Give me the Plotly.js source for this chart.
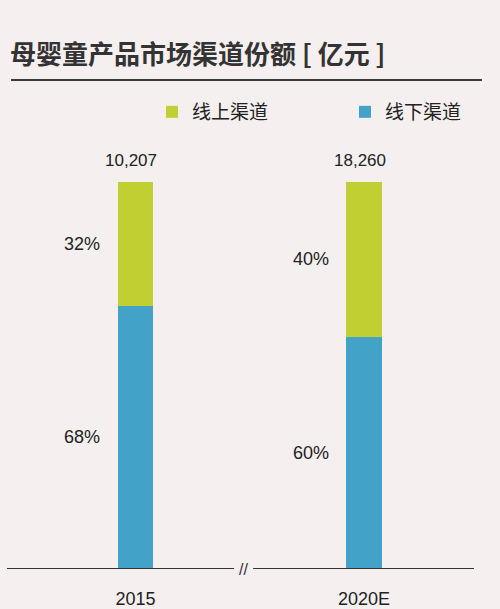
<!DOCTYPE html>
<html>
<head>
<meta charset="utf-8">
<script src="https://cdn.plot.ly/plotly-3.0.1.min.js"></script>
<style>html,body{margin:0;padding:0;background:#f5eff0;}</style>
</head>
<body>
<div id="chart" style="width:500px;height:609px;"></div>
<script>
var years = ['2015', '2020E'];
var totals = [10207, 18260];
var onlineShare = [32, 40];
var offlineShare = [68, 60];
var seriesNames = ['线上渠道', '线下渠道'];
var titleText = '母婴童产品市场渠道份额 [ 亿元 ]';

var numFont = 'Liberation Sans, Arial, sans-serif';
var cjkFont = 'Noto Sans CJK SC, sans-serif';

var traces = [
  {
    type: 'bar', name: seriesNames[1], x: years, y: offlineShare,
    marker: {color: '#43a2c7'}, width: 0.155, legend: 'legend2',
    hoverinfo: 'skip'
  },
  {
    type: 'bar', name: seriesNames[0], x: years, y: onlineShare,
    marker: {color: '#c2cf33'}, width: 0.155, legend: 'legend',
    hoverinfo: 'skip'
  }
];

var annotations = [];
years.forEach(function (yr, i) {
  var total = offlineShare[i] + onlineShare[i];
  annotations.push({
    x: i, y: total, xref: 'x', yref: 'y', text: totals[i].toLocaleString('en-US'),
    showarrow: false, yanchor: 'bottom', yshift: 10, xshift: -4,
    font: {family: numFont, size: 17, color: '#222'}
  });
  annotations.push({
    x: i, y: offlineShare[i] / 2, xref: 'x', yref: 'y', text: offlineShare[i] + '%',
    showarrow: false, xanchor: 'right', xshift: -33,
    font: {family: numFont, size: 18, color: '#222'}
  });
  annotations.push({
    x: i, y: offlineShare[i] + onlineShare[i] / 2, xref: 'x', yref: 'y', text: onlineShare[i] + '%',
    showarrow: false, xanchor: 'right', xshift: -33,
    font: {family: numFont, size: 18, color: '#222'}
  });
});
annotations.push({
  x: 0.506, y: 0, xref: 'paper', yref: 'y', text: '//', showarrow: false,
  font: {family: numFont, size: 16, color: '#333'}
});

var legendFont = {family: cjkFont, size: 19, color: '#222'};

var layout = {
  width: 500, height: 609, autosize: false,
  paper_bgcolor: '#f5eff0', plot_bgcolor: '#f5eff0',
  margin: {l: 7, r: 26, t: 182, b: 40},
  barmode: 'stack',
  title: {
    text: titleText, xref: 'container', yref: 'container',
    x: 0.02, xanchor: 'left', y: 1 - 55 / 609, yanchor: 'middle',
    font: {family: cjkFont, size: 26, weight: 700, color: '#333'}
  },
  showlegend: true,
  legend: {
    orientation: 'h', xref: 'container', yref: 'container',
    x: 0.304, xanchor: 'left', y: 1 - 112 / 609, yanchor: 'middle',
    font: legendFont, bgcolor: 'rgba(0,0,0,0)'
  },
  legend2: {
    orientation: 'h', xref: 'container', yref: 'container',
    x: 0.69, xanchor: 'left', y: 1 - 112 / 609, yanchor: 'middle',
    font: legendFont, bgcolor: 'rgba(0,0,0,0)'
  },
  xaxis: {
    type: 'category', range: [-0.562, 1.481], showgrid: false, zeroline: false,
    showline: false, ticks: '', ticklabelstandoff: 17,
    tickfont: {family: numFont, size: 18, color: '#222'}, fixedrange: true
  },
  yaxis: {
    range: [0, 100], visible: false, fixedrange: true
  },
  shapes: [
    {type: 'line', xref: 'paper', yref: 'paper', x0: 0.0086, x1: 1.017, y0: 1.2636, y1: 1.2636,
     line: {color: '#3a3a3a', width: 2}},
    {type: 'line', xref: 'paper', yref: 'y', x0: 0, x1: 0.486, y0: 0, y1: 0,
     line: {color: '#333', width: 2}},
    {type: 'line', xref: 'paper', yref: 'y', x0: 0.527, x1: 1, y0: 0, y1: 0,
     line: {color: '#333', width: 2}}
  ],
  annotations: annotations
};

Plotly.newPlot('chart', traces, layout, {displayModeBar: false, staticPlot: true});
</script>
</body>
</html>
